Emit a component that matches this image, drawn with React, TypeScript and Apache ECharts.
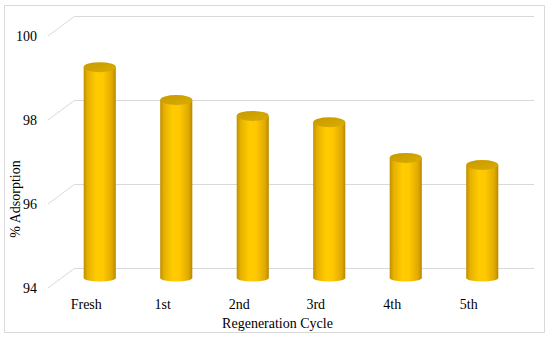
import React, { useEffect, useRef } from "react";
import * as echarts from "echarts";

const categories = ["Fresh", "1st", "2nd", "3rd", "4th", "5th"];
const adsorption = [99.02, 98.24, 97.86, 97.71, 96.86, 96.69];
const yTicks = [94, 96, 98, 100];

const W = 550;
const H = 339;
const FONT = "'Liberation Serif', 'Times New Roman', serif";
const DX = 27; // depth offset x (front -> back)
const DY = 20; // depth offset y

export default function App() {
  const ref = useRef<HTMLDivElement>(null);
  useEffect(() => {
    if (!ref.current) return;
    const chart = echarts.init(ref.current, null, { renderer: "svg" });
    const frontLeft = 48;
    const frontTop = 36;
    const plotW = 459;
    const plotH = 252;
    const yAxisBase = { type: "value" as const, min: 94, max: 100, interval: 2 };

    const cylBody = new echarts.graphic.LinearGradient(0, 0, 1, 0, [
      { offset: 0, color: "#C08F00" },
      { offset: 0.12, color: "#E6B000" },
      { offset: 0.4, color: "#FFCC00" },
      { offset: 0.6, color: "#FFC800" },
      { offset: 0.88, color: "#E0AA00" },
      { offset: 1, color: "#B88800" },
    ]);
    const cylTop = new echarts.graphic.LinearGradient(0, 0, 1, 1, [
      { offset: 0, color: "#C79A00" },
      { offset: 1, color: "#DAAC00" },
    ]);

    chart.setOption({
      animation: false,
      backgroundColor: "#ffffff",
      graphic: [
        {
          type: "rect",
          shape: { x: 4.5, y: 5.5, width: 540, height: 327 },
          style: { fill: "none", stroke: "#d9d9d9", lineWidth: 1 },
          silent: true,
        },
      ],
      grid: [
        // back wall
        { left: frontLeft + DX, top: frontTop - DY, width: plotW, height: plotH, outerBoundsMode: "none", containLabel: false },
        // front plane
        { left: frontLeft, top: frontTop, width: plotW, height: plotH, outerBoundsMode: "none", containLabel: false },
        // middle plane (bars)
        { left: frontLeft + DX / 2, top: frontTop - DY / 2, width: plotW, height: plotH, outerBoundsMode: "none", containLabel: false },
      ],
      xAxis: [
        { type: "category", data: categories, gridIndex: 0, show: false },
        {
          type: "category",
          data: categories,
          gridIndex: 1,
          axisLine: { show: false },
          axisTick: { show: false },
          axisLabel: { color: "#000", fontFamily: FONT, fontSize: 14, margin: 9 },
          name: "Regeneration Cycle",
          nameLocation: "middle",
          nameGap: 28,
          nameMoveOverlap: false,
          nameTextStyle: { color: "#000", fontFamily: FONT, fontSize: 14 },
        },
        { type: "category", data: categories, gridIndex: 2, show: false },
      ],
      yAxis: [
        {
          ...yAxisBase,
          gridIndex: 0,
          axisLine: { show: false },
          axisTick: { show: false },
          axisLabel: { show: false },
          splitLine: { show: true, lineStyle: { color: "#d9d9d9", width: 1 } },
        },
        {
          ...yAxisBase,
          gridIndex: 1,
          axisLine: { show: false },
          axisTick: { show: false },
          splitLine: { show: false },
          axisLabel: { color: "#000", fontFamily: FONT, fontSize: 14, margin: 11 },
          name: "% Adsorption",
          nameLocation: "middle",
          nameGap: 26,
          nameMoveOverlap: false,
          nameTextStyle: { color: "#000", fontFamily: FONT, fontSize: 14, padding: [0, 74, 0, 0] },
        },
        { ...yAxisBase, gridIndex: 2, show: false },
      ],
      series: [
        {
          type: "custom",
          xAxisIndex: 1,
          yAxisIndex: 1,
          silent: true,
          data: yTicks.map((v) => [0, v]),
          renderItem: (params: any, api: any) => {
            const p = api.coord([0, api.value(1)]);
            const x0 = (params.coordSys as any).x;
            return {
              type: "line",
              shape: { x1: x0, y1: p[1], x2: x0 + DX, y2: p[1] - DY },
              style: { stroke: "#d9d9d9", lineWidth: 1 },
            };
          },
        },
        {
          type: "custom",
          xAxisIndex: 2,
          yAxisIndex: 2,
          silent: true,
          data: adsorption.map((v, i) => [i, v]),
          renderItem: (params: any, api: any) => {
            const top = api.coord([api.value(0), api.value(1)]);
            const base = api.coord([api.value(0), 94]);
            const bw = api.size([1, 0])[0] * 0.42;
            const rx = bw / 2;
            const ryTop = 5;
            const ryBot = 3.5;
            const x0 = top[0] - rx;
            const x1 = top[0] + rx;
            const yt = top[1];
            const yb = base[1];
            const body = `M ${x0} ${yt} L ${x0} ${yb} A ${rx} ${ryBot} 0 0 0 ${x1} ${yb} L ${x1} ${yt} Z`;
            const cap = `M ${x0} ${yt} A ${rx} ${ryTop} 0 1 0 ${x1} ${yt} A ${rx} ${ryTop} 0 1 0 ${x0} ${yt} Z`;
            return {
              type: "group",
              children: [
                { type: "path", shape: { pathData: body }, style: { fill: cylBody } },
                { type: "path", shape: { pathData: cap }, style: { fill: cylTop } },
              ],
            };
          },
        },
      ],
    });
    return () => chart.dispose();
  }, []);
  return (
    <div
      ref={ref}
      style={{ position: "fixed", left: 0, top: 0, width: W, height: H, background: "#fff" }}
    />
  );
}
